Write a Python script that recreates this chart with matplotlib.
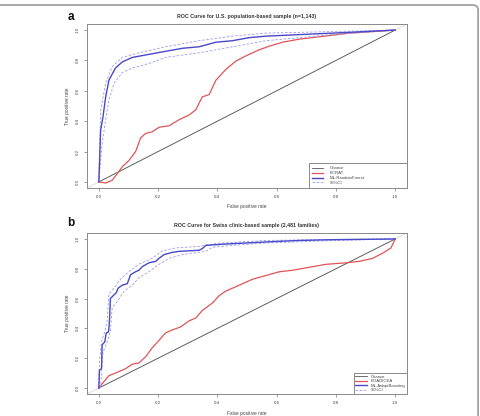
import matplotlib.pyplot as plt
import matplotlib.patches as patches
import numpy as np

plt.rcParams['font.family'] = ['Liberation Sans', 'DejaVu Sans']

# panel a: U.S. population-based sample
a_title = "ROC Curve for U.S. population-based sample (n=1,143)"
a_labels = ["Chance", "BCRAT", "ML-RandomForest", "95%CI"]
a_ml_fpr = [0, 0.006, 0.014, 0.023, 0.034, 0.045, 0.056, 0.079, 0.113, 0.169, 0.225,
            0.282, 0.338, 0.395, 0.451, 0.507, 0.564, 0.676, 0.789, 1.0]
a_ml_tpr = [0, 0.34, 0.43, 0.56, 0.67, 0.71, 0.75, 0.79, 0.82, 0.84, 0.86,
            0.88, 0.89, 0.92, 0.93, 0.95, 0.96, 0.97, 0.98, 1.0]
a_up_fpr = [0, 0.006, 0.023, 0.045, 0.079, 0.135, 0.225, 0.338, 0.451, 0.564, 0.676, 1.0]
a_up_tpr = [0, 0.47, 0.65, 0.76, 0.82, 0.85, 0.89, 0.93, 0.96, 0.98, 0.985, 1.0]
a_lo_fpr = [0, 0.011, 0.023, 0.034, 0.051, 0.079, 0.113, 0.169, 0.225, 0.338, 0.451,
            0.564, 0.676, 0.789, 1.0]
a_lo_tpr = [0, 0.25, 0.41, 0.54, 0.65, 0.72, 0.75, 0.78, 0.82, 0.85, 0.89,
            0.93, 0.95, 0.97, 1.0]
a_ref_fpr = [0, 0.023, 0.045, 0.062, 0.079, 0.101, 0.124, 0.141, 0.158, 0.18, 0.203,
             0.237, 0.271, 0.304, 0.327, 0.349, 0.372, 0.395, 0.428, 0.462, 0.496,
             0.541, 0.575, 0.62, 0.676, 0.744, 0.846, 0.902, 1.0]
a_ref_tpr = [0, -0.007, 0.011, 0.055, 0.1, 0.14, 0.2, 0.29, 0.32, 0.33, 0.36,
             0.37, 0.41, 0.44, 0.475, 0.56, 0.575, 0.67, 0.74, 0.795, 0.83,
             0.87, 0.894, 0.92, 0.94, 0.956, 0.98, 0.987, 1.0]

# panel b: Swiss clinic-based sample
b_title = "ROC Curve for Swiss clinic-based sample (2,481 families)"
b_labels = ["Chance", "BOADICEA", "ML-AdaptBoosting", "95%CI"]
b_ml_fpr = [0, 0.002, 0.009, 0.011, 0.02, 0.025, 0.032, 0.034, 0.036, 0.039, 0.051,
            0.059, 0.065, 0.079, 0.096, 0.107, 0.124, 0.135, 0.147, 0.169, 0.192,
            0.203, 0.22, 0.248, 0.271, 0.338, 0.349, 0.361, 0.428, 0.564, 0.676,
            0.789, 1.0]
b_ml_tpr = [0, 0.12, 0.13, 0.29, 0.31, 0.37, 0.375, 0.40, 0.46, 0.60, 0.625,
            0.64, 0.67, 0.69, 0.70, 0.76, 0.78, 0.79, 0.815, 0.84, 0.85,
            0.87, 0.895, 0.91, 0.917, 0.924, 0.935, 0.957, 0.966, 0.98, 0.99,
            0.995, 1.0]
b_up_fpr = [0, 0.002, 0.009, 0.02, 0.028, 0.034, 0.051, 0.073, 0.101, 0.135, 0.18,
            0.214, 0.259, 0.338, 0.395, 0.564, 0.789, 1.0]
b_up_tpr = [0, 0.18, 0.31, 0.38, 0.45, 0.63, 0.67, 0.73, 0.78, 0.83, 0.87,
            0.92, 0.94, 0.95, 0.97, 0.99, 0.997, 1.0]
b_lo_fpr = [0.006, 0.009, 0.014, 0.028, 0.039, 0.045, 0.062, 0.085, 0.113, 0.135,
            0.169, 0.203, 0.237, 0.282, 0.361, 0.383, 0.451, 0.564, 0.789, 1.0]
b_lo_tpr = [0, 0.11, 0.24, 0.31, 0.38, 0.54, 0.58, 0.65, 0.69, 0.74,
            0.78, 0.83, 0.87, 0.895, 0.917, 0.944, 0.957, 0.973, 0.989, 1.0]
b_ref_fpr = [0, 0.017, 0.034, 0.056, 0.09, 0.113, 0.135, 0.158, 0.18, 0.203, 0.225,
             0.248, 0.276, 0.304, 0.327, 0.349, 0.383, 0.406, 0.428, 0.451, 0.485,
             0.519, 0.564, 0.609, 0.654, 0.71, 0.767, 0.834, 0.879, 0.924, 0.958,
             0.986, 1.0]
b_ref_tpr = [0, 0.043, 0.083, 0.10, 0.13, 0.16, 0.168, 0.21, 0.27, 0.32, 0.37,
             0.39, 0.41, 0.45, 0.47, 0.52, 0.57, 0.62, 0.65, 0.67, 0.70,
             0.73, 0.755, 0.78, 0.79, 0.81, 0.83, 0.84, 0.85, 0.87, 0.905,
             0.94, 1.0]

ticks = [0.0, 0.2, 0.4, 0.6, 0.8, 1.0]

RED = '#e05555'
BLUE = '#4848c8'
CI = '#9a9af0'
GREY = '#8a8a8a'


def draw_panel(ax, title, letter, labels, ml, up, lo, ref, letter_y, leg_x):
    ax.axline((0, 0), (1, 1), color='#d8d8d8', lw=0.6, zorder=1)
    ax.plot([0, 1], [0, 1], color='#555555', lw=0.6, label=labels[0], zorder=2)
    ax.plot(ref[0], ref[1], color=RED, lw=0.9, label=labels[1], zorder=3)
    ax.plot(ml[0], ml[1], color=BLUE, lw=1.0, label=labels[2], zorder=4)
    ax.plot(up[0], up[1], color=CI, lw=0.6, ls=(0, (3, 2)), label=labels[3], zorder=3)
    ax.plot(lo[0], lo[1], color=CI, lw=0.6, ls=(0, (3, 2)), zorder=3)

    ax.set_xlim(-0.04, 1.04)
    ax.set_ylim(-0.04, 1.04)
    ax.set_xticks(ticks)
    ax.set_yticks(ticks)
    ax.set_xticklabels([f"{t:.1f}" for t in ticks])
    ax.set_yticklabels([f"{t:.1f}" for t in ticks], rotation=90, va='center')
    ax.tick_params(labelsize=3.2, length=2.5, width=0.5, pad=2.5,
                   color='#777777', labelcolor='#444444')
    for s in ax.spines.values():
        s.set_color(GREY)
        s.set_linewidth(0.7)
    ax.set_xlabel("False positive rate", fontsize=3.4, color='#444444', labelpad=4)
    ax.set_ylabel("True positive rate", fontsize=3.4, color='#444444', labelpad=4)
    ax.set_title(title, fontsize=3.8, fontweight='bold', color='#333333', pad=4.5)
    ax.text(-0.05, letter_y, letter, transform=ax.transAxes, fontsize=8.5,
            fontweight='bold', ha='center', va='center', color='#111111')

    if leg_x is None:
        leg = ax.legend(loc='lower right', borderaxespad=0, fontsize=3.1,
                        handlelength=2.6, labelspacing=0.15, borderpad=0.35,
                        handletextpad=1.0, fancybox=False, framealpha=1)
    else:
        leg = ax.legend(loc='lower left', bbox_to_anchor=(leg_x, 0, 1 - leg_x, 0.1),
                        mode='expand', borderaxespad=0, fontsize=3.1,
                        handlelength=2.6, labelspacing=0.2, borderpad=0.7,
                        handletextpad=1.4, fancybox=False, framealpha=1)
    leg.get_frame().set_edgecolor(GREY)
    leg.get_frame().set_linewidth(0.7)
    for t in leg.get_texts():
        t.set_color('#444444')


fig = plt.figure(figsize=(4.81, 4.16), dpi=100)
ax_a = fig.add_axes([87 / 481, 1 - 188 / 416, 320 / 481, 164 / 416])
ax_b = fig.add_axes([87 / 481, 1 - 394 / 416, 320 / 481, 161 / 416])

draw_panel(ax_a, a_title, 'a', a_labels, (a_ml_fpr, a_ml_tpr), (a_up_fpr, a_up_tpr),
           (a_lo_fpr, a_lo_tpr), (a_ref_fpr, a_ref_tpr), 1.045, 0.694)
draw_panel(ax_b, b_title, 'b', b_labels, (b_ml_fpr, b_ml_tpr), (b_up_fpr, b_up_tpr),
           (b_lo_fpr, b_lo_tpr), (b_ref_fpr, b_ref_tpr), 1.062, None)

# grey frame of the figure (top and right edges visible)
frame = patches.FancyBboxPatch((-0.05, -0.05), 0.994 + 0.05, 1 - 5 / 416 + 0.05,
                               boxstyle="round,pad=0,rounding_size=0.012",
                               transform=fig.transFigure, fill=False,
                               ec='#9a9a9a', lw=1.2, clip_on=False)
fig.patches.append(frame)

fig.savefig('out.png', dpi=100)
